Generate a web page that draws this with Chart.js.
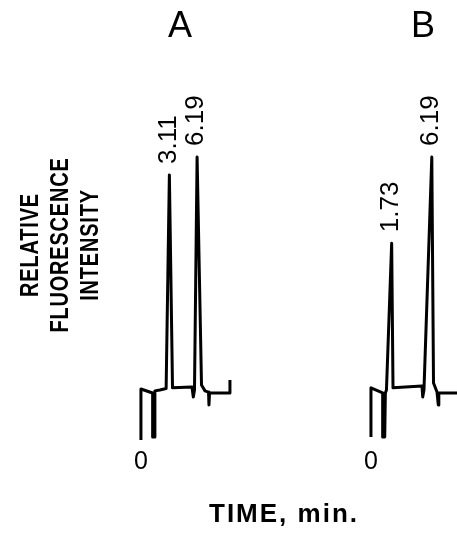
<!DOCTYPE html>
<html>
<head>
<meta charset="utf-8">
<script src="https://cdn.jsdelivr.net/npm/chart.js@4.4.1/dist/chart.umd.min.js"></script>
<style>
  html, body { margin: 0; padding: 0; background: #fff; }
  #wrap { width: 457px; height: 533px; position: relative; }
</style>
</head>
<body>
<div id="wrap"><canvas id="chart"></canvas></div>
<script>
// Chromatogram A (time in min, relative fluorescence, tallest peak = 100)
const timeA = [-0.05, -0.05, 1.25, 1.25, 1.50, 1.50, 2.05, 2.75, 3.11, 3.46, 5.62, 5.77, 5.90, 6.19, 6.68, 7.07, 7.46, 7.51, 7.57, 9.84, 9.84];
const signalA = [-21.5, 0.4, -1.3, -20.2, -20.2, -0.4, 0, 0.6, 92.3, 0.9, 1.3, -3.0, 0, 100, 2.1, -0.4, -0.9, -6.4, -1.3, -1.3, 4.3];

// Chromatogram B
const timeB = [-0.57, -0.57, 0.73, 0.73, 0.96, 1.03, 1.15, 1.73, 1.88, 5.10, 5.18, 5.32, 6.19, 6.38, 6.77, 6.91, 6.97, 9.20];
const signalB = [-20.2, 0.9, -1.3, -20.2, -20.2, -1.3, 0, 63.0, 0.9, 1.7, -3.0, 0, 100, 3.0, -0.9, -6.4, -1.3, -1.3];

// Peak retention times and their labels
const peakTimesA = [3.11, 6.19];
const peakLabelsA = ['3.11', '6.19'];
const peakTimesB = [1.73, 6.19];
const peakLabelsB = ['1.73', '6.19'];

const panelNames = ['A', 'B'];
const zeroLabel = '0';
const yTitle = ['RELATIVE', 'FLUORESCENCE', 'INTENSITY'];
const xTitle = 'TIME, min.';

const FONT = '"Liberation Sans", Arial, sans-serif';

function toPoints(times, values) {
    return times.map((t, i) => ({ x: t, y: values[i] }));
}

// Draw rotated peak labels, the zero marks and the titles
const labelPlugin = {
    id: 'labels',
    afterDatasetsDraw(chart) {
        const ctx = chart.ctx;
        const yScale = chart.scales.y;
        const panels = [
            { scale: chart.scales.xA, times: timeA, values: signalA, peaks: peakTimesA, labels: peakLabelsA },
            { scale: chart.scales.xB, times: timeB, values: signalB, peaks: peakTimesB, labels: peakLabelsB }
        ];
        ctx.save();
        ctx.fillStyle = '#000';

        panels.forEach(p => {
            // peak labels, reading bottom to top
            ctx.font = '26px ' + FONT;
            ctx.textAlign = 'left';
            ctx.textBaseline = 'middle';
            p.peaks.forEach((t, i) => {
                const idx = p.times.indexOf(t);
                const px = p.scale.getPixelForValue(t);
                const py = yScale.getPixelForValue(p.values[idx]);
                ctx.save();
                ctx.translate(px - 1, py - 11);
                ctx.rotate(-Math.PI / 2);
                ctx.fillText(p.labels[i], 0, 0);
                ctx.restore();
            });
            // zero mark under the injection
            ctx.font = '25px ' + FONT;
            ctx.textAlign = 'center';
            ctx.fillText(zeroLabel, p.scale.getPixelForValue(p.times[0]), 462);
        });

        // panel letters
        ctx.font = '36px ' + FONT;
        ctx.textAlign = 'center';
        ctx.textBaseline = 'middle';
        ctx.fillText(panelNames[0], 180, 27);
        ctx.fillText(panelNames[1], 423, 27);

        // y title, three rotated lines, a bit condensed
        ctx.font = 'bold 25px ' + FONT;
        ctx.letterSpacing = '1px';
        yTitle.forEach((line, i) => {
            ctx.save();
            ctx.translate(31 + i * 30, 245);
            ctx.rotate(-Math.PI / 2);
            ctx.scale(0.8, 1);
            ctx.fillText(line, 0, 0);
            ctx.restore();
        });

        // x title
        ctx.font = 'bold 26px ' + FONT;
        ctx.letterSpacing = '2px';
        ctx.fillText(xTitle, 284, 515);
        ctx.restore();
    }
};

new Chart(document.getElementById('chart'), {
    type: 'scatter',
    data: {
        datasets: [
            {
                data: toPoints(timeA, signalA),
                xAxisID: 'xA',
                showLine: true,
                borderColor: '#000',
                borderWidth: 3,
                borderJoinStyle: 'round',
                pointRadius: 0,
                tension: 0
            },
            {
                data: toPoints(timeB, signalB),
                xAxisID: 'xB',
                showLine: true,
                borderColor: '#000',
                borderWidth: 3,
                borderJoinStyle: 'round',
                pointRadius: 0,
                tension: 0
            }
        ]
    },
    options: {
        responsive: true,
        maintainAspectRatio: false,
        animation: false,
        layout: { padding: 0 },
        plugins: {
            legend: { display: false },
            tooltip: { enabled: false }
        },
        scales: {
            xA: { type: 'linear', display: false, min: -15.71, max: 35.07 },
            xB: { type: 'linear', display: false, min: -41.79, max: 8.99 },
            y: { type: 'linear', display: false, min: -61.4, max: 167.4 }
        }
    },
    plugins: [labelPlugin]
});
</script>
</body>
</html>
